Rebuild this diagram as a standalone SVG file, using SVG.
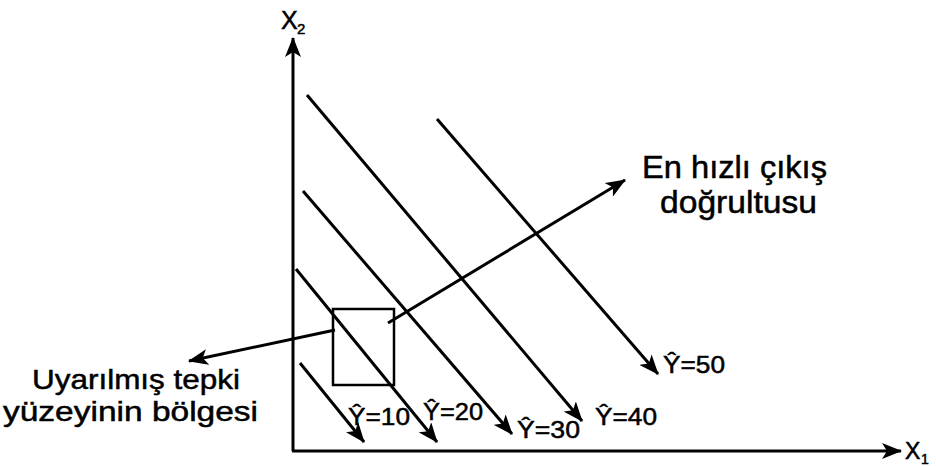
<svg xmlns="http://www.w3.org/2000/svg" width="936" height="466" viewBox="0 0 936 466">
<style>
.ln{stroke:#000;stroke-width:3;fill:none;stroke-linecap:butt}
.ax{stroke:#000;stroke-width:3;fill:none}
.box{stroke:#000;stroke-width:2.5;fill:none}
.t{font-family:"Liberation Sans",Arial,sans-serif;fill:#000;stroke:#000;stroke-width:0.5}
.big{font-size:31px}
.mid{font-size:28px}
.lab{font-size:24px}
</style>
<defs>
<marker id="ah" markerUnits="userSpaceOnUse" viewBox="0 0 20 16" refX="19" refY="8" markerWidth="20" markerHeight="16" orient="auto">
<path d="M0,0 L20,8 L0,16 L5,8 Z" fill="#000"/>
</marker>
</defs>
<rect width="936" height="466" fill="#fff"/>
<g id="axes">
<line class="ax" x1="293" y1="451" x2="293" y2="38" marker-end="url(#ah)"/>
<line class="ax" x1="292" y1="451" x2="901" y2="451" marker-end="url(#ah)"/>
<text class="t" x="281" y="29" font-size="25">X</text>
<text class="t" x="297" y="34" font-size="15">2</text>
<text class="t" x="905" y="459" font-size="23">X</text>
<text class="t" x="921" y="464" font-size="14">1</text>
</g>
<g id="contours">
<g id="y10"><line class="ln" x1="300" y1="363" x2="364" y2="442" marker-end="url(#ah)"/><text class="t lab" x="348" y="425" textLength="62" lengthAdjust="spacingAndGlyphs">Ŷ=10</text></g>
<g id="y20"><line class="ln" x1="296" y1="269" x2="437" y2="442" marker-end="url(#ah)"/><text class="t lab" x="423" y="420" textLength="60" lengthAdjust="spacingAndGlyphs">Ŷ=20</text></g>
<g id="y30"><line class="ln" x1="303" y1="191" x2="512" y2="434" marker-end="url(#ah)"/><text class="t lab" x="517" y="438" textLength="63" lengthAdjust="spacingAndGlyphs">Ŷ=30</text></g>
<g id="y40"><line class="ln" x1="307" y1="95" x2="582" y2="421" marker-end="url(#ah)"/><text class="t lab" x="595" y="425" textLength="62" lengthAdjust="spacingAndGlyphs">Ŷ=40</text></g>
<g id="y50"><line class="ln" x1="437" y1="119" x2="658" y2="374" marker-end="url(#ah)"/><text class="t lab" x="663" y="373" textLength="62" lengthAdjust="spacingAndGlyphs">Ŷ=50</text></g>
</g>
<g id="region">
<rect class="box" x="333" y="309" width="61" height="76"/>
</g>
<g id="label-direction">
<text class="t big" x="642" y="178" textLength="185" lengthAdjust="spacingAndGlyphs">En hızlı çıkış</text>
<text class="t big" x="660" y="213" textLength="157" lengthAdjust="spacingAndGlyphs">doğrultusu</text>
</g>
<g id="label-region">
<text class="t mid" x="32" y="389" textLength="208" lengthAdjust="spacingAndGlyphs">Uyarılmış tepki</text>
<text class="t mid" x="3" y="421" textLength="255" lengthAdjust="spacingAndGlyphs">yüzeyinin bölgesi</text>
</g>
<g id="connectors">
<line class="ln" x1="388" y1="323" x2="625" y2="180" marker-end="url(#ah)"/>
<line class="ln" x1="335" y1="330" x2="189" y2="361" marker-end="url(#ah)"/>
</g>
</svg>
